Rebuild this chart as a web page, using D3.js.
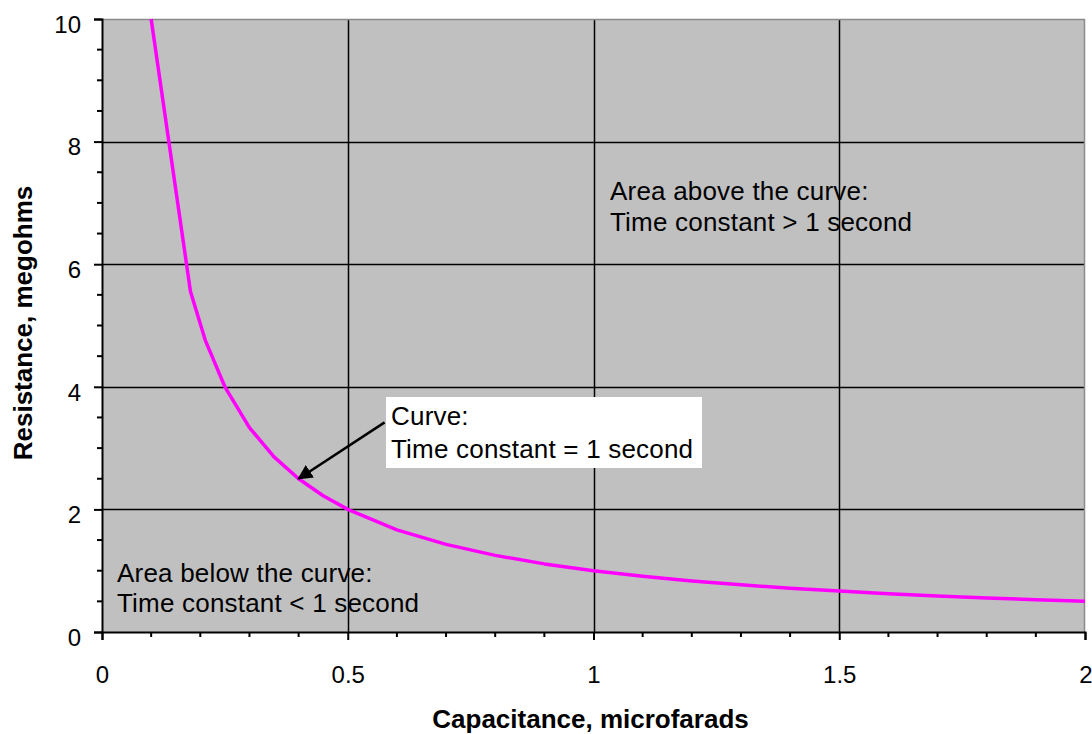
<!DOCTYPE html>
<html>
<head>
<meta charset="utf-8">
<script src="https://cdn.jsdelivr.net/npm/d3@7"></script>
<style>
  html, body { margin: 0; padding: 0; background: #fff; }
  svg { display: block; font-family: "Liberation Sans", Arial, sans-serif; }
</style>
</head>
<body>
<svg id="chart" width="1092" height="734"></svg>
<script>
// ---- Data ----
const capacitance = [0.1, 0.18, 0.21, 0.25, 0.3, 0.35, 0.4, 0.45, 0.5, 0.6, 0.7, 0.8, 0.9, 1.0, 1.1, 1.2, 1.3, 1.4, 1.5, 1.6, 1.7, 1.8, 1.9, 2.0];
const resistance  = [10, 5.556, 4.762, 4, 3.333, 2.857, 2.5, 2.222, 2, 1.667, 1.429, 1.25, 1.111, 1, 0.909, 0.833, 0.769, 0.714, 0.667, 0.625, 0.588, 0.556, 0.526, 0.5];
const xTickValues = [0, 0.5, 1, 1.5, 2];
const xTickLabels = ["0", "0.5", "1", "1.5", "2"];
const xMinorTicks = [0.1,0.2,0.3,0.4,0.6,0.7,0.8,0.9,1.1,1.2,1.3,1.4,1.6,1.7,1.8,1.9];
const yTickValues = [0, 2, 4, 6, 8, 10];
const yTickLabels = ["0", "2", "4", "6", "8", "10"];
const yMinorTicks = [0.5,1,1.5,2.5,3,3.5,4.5,5,5.5,6.5,7,7.5,8.5,9,9.5];
const xTitle = "Capacitance, microfarads";
const yTitle = "Resistance, megohms";
const aboveLines = ["Area above the curve:", "Time constant > 1 second"];
const belowLines = ["Area below the curve:", "Time constant < 1 second"];
const curveLines = ["Curve:", "Time constant = 1 second"];
const arrowFrom = [0.575, 3.42];   // data coords of arrow tail
const arrowTo   = [0.4, 2.5];      // data coords of arrow head (on curve)

(function () {
// ---- Layout ----
const pL = 102, pR = 1085, pT = 19, pB = 632;
const svg = d3.select("#chart");
const x = d3.scaleLinear().domain([0, 2]).range([pL, pR]);
const y = d3.scaleLinear().domain([0, 10]).range([pB, pT]);

// plot background
svg.append("rect").attr("x", pL).attr("y", pT)
  .attr("width", pR - pL).attr("height", pB - pT)
  .attr("fill", "#c0c0c0");

// gridlines
const g = svg.append("g");
g.selectAll(".vg").data(xTickValues.slice(1, -1)).join("line")
  .attr("x1", d => Math.round(x(d)) + 0.5).attr("x2", d => Math.round(x(d)) + 0.5)
  .attr("y1", pT).attr("y2", pB)
  .attr("stroke", "#000").attr("stroke-width", 1.5);
g.selectAll(".hg").data(yTickValues.slice(1, -1)).join("line")
  .attr("y1", d => Math.round(y(d)) + 0.5).attr("y2", d => Math.round(y(d)) + 0.5)
  .attr("x1", pL).attr("x2", pR)
  .attr("stroke", "#000").attr("stroke-width", 1.5);

// plot border (top/right grey)
svg.append("path")
  .attr("d", `M${pL},${pT + 0.5}H${pR - 0.5}V${pB}`)
  .attr("fill", "none").attr("stroke", "#8a8a8a").attr("stroke-width", 1.5);

// axes
const xAxis = d3.axisBottom(x).tickValues(xTickValues)
  .tickFormat((d, i) => xTickLabels[i]).tickSize(8).tickPadding(0);
const xAx = svg.append("g").attr("transform", `translate(0,${pB})`).call(xAxis);
xAx.select(".domain").attr("stroke", "#000").attr("stroke-width", 2);
xAx.selectAll(".tick line").attr("stroke", "#000").attr("stroke-width", 2);
xAx.selectAll(".tick text").attr("font-size", 24).attr("fill", "#000")
  .attr("font-family", "Liberation Sans, Arial, sans-serif")
  .attr("y", 51).attr("dy", 0);
xAx.selectAll(".tick").filter(d => d === 2).select("text").attr("text-anchor", "end").attr("dx", 7);
svg.append("g").selectAll("line").data(xMinorTicks).join("line")
  .attr("x1", d => x(d)).attr("x2", d => x(d))
  .attr("y1", pB).attr("y2", pB + 5)
  .attr("stroke", "#000").attr("stroke-width", 2);

const yAxis = d3.axisLeft(y).tickValues(yTickValues)
  .tickFormat((d, i) => yTickLabels[i]).tickSize(8).tickPadding(13);
const yAx = svg.append("g").attr("transform", `translate(${pL},0)`).call(yAxis);
yAx.select(".domain").attr("stroke", "#000").attr("stroke-width", 2);
yAx.selectAll(".tick line").attr("stroke", "#000").attr("stroke-width", 2);
yAx.selectAll(".tick text").attr("font-size", 24).attr("fill", "#000")
  .attr("font-family", "Liberation Sans, Arial, sans-serif")
  .attr("dy", "0.55em");
svg.append("g").selectAll("line").data(yMinorTicks).join("line")
  .attr("y1", d => y(d)).attr("y2", d => y(d))
  .attr("x1", pL - 5).attr("x2", pL)
  .attr("stroke", "#000").attr("stroke-width", 2);

// curve
const pts = capacitance.map((c, i) => [c, resistance[i]]);
svg.append("path").datum(pts)
  .attr("d", d3.line().x(d => x(d[0])).y(d => y(d[1])))
  .attr("fill", "none").attr("stroke", "#ff00ff").attr("stroke-width", 3.5)
  .attr("stroke-linejoin", "round");

// annotation text
function textBlock(lines, px, py, lh) {
  const t = svg.append("text").attr("font-size", 26).attr("letter-spacing", 0.2).attr("fill", "#000");
  lines.forEach((s, i) => t.append("tspan").attr("x", px).attr("y", py + i * lh).text(s));
  return t;
}
textBlock(aboveLines, 610, 200, 31);
textBlock(belowLines, 117, 582, 30);

// curve label box
svg.append("rect").attr("x", 386).attr("y", 397).attr("width", 316).attr("height", 71)
  .attr("fill", "#fff");
textBlock(curveLines, 391, 425, 33);

// arrow
svg.append("defs").append("marker")
  .attr("id", "ah").attr("viewBox", "0 0 10 10").attr("refX", 9).attr("refY", 5)
  .attr("markerWidth", 6).attr("markerHeight", 6).attr("markerUnits", "strokeWidth")
  .attr("orient", "auto")
  .append("path").attr("d", "M0,0L10,5L0,10z").attr("fill", "#000");
svg.append("line")
  .attr("x1", x(arrowFrom[0])).attr("y1", y(arrowFrom[1]))
  .attr("x2", x(arrowTo[0])).attr("y2", y(arrowTo[1]))
  .attr("stroke", "#000").attr("stroke-width", 2.5).attr("marker-end", "url(#ah)");

// axis titles
svg.append("text").attr("x", (pL + pR) / 2 - 3).attr("y", 728)
  .attr("text-anchor", "middle").attr("font-size", 26).attr("font-weight", "bold")
  .text(xTitle);
svg.append("text").attr("transform", "translate(32,323) rotate(-90)")
  .attr("text-anchor", "middle").attr("font-size", 26).attr("font-weight", "bold")
  .text(yTitle);
})();
</script>
</body>
</html>
